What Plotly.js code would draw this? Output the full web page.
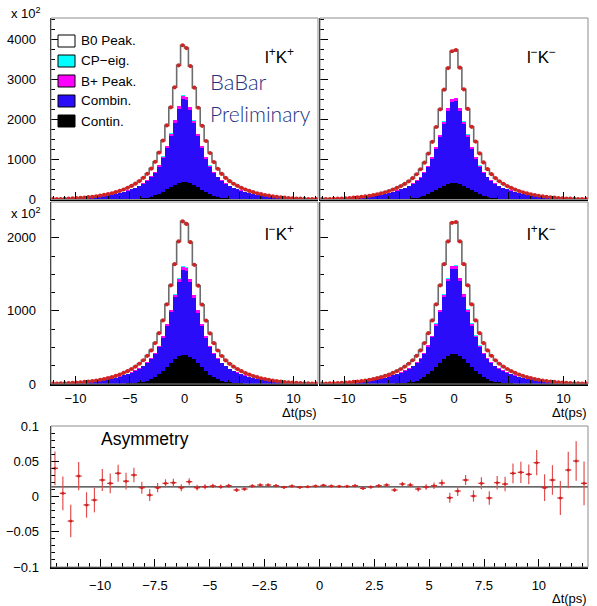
<!DOCTYPE html>
<html><head><meta charset="utf-8">
<script src="https://cdn.plot.ly/plotly-3.0.1.min.js"></script>
<style>html,body{margin:0;padding:0;background:#fff}#plot{width:597px;height:606px}</style>
</head><body><div id="plot"></div>
<script>
// ---- bin centres (Δt, ps) ----
const binCenters = [-12.06,-11.70,-11.34,-10.98,-10.62,-10.26,-9.90,-9.54,-9.18,-8.82,-8.46,-8.10,-7.74,-7.38,-7.02,-6.66,-6.30,-5.94,-5.58,-5.22,-4.86,-4.50,-4.14,-3.78,-3.42,-3.06,-2.70,-2.34,-1.98,-1.62,-1.26,-0.90,-0.54,-0.18,
 0.18,0.54,0.90,1.26,1.62,1.98,2.34,2.70,3.06,3.42,3.78,4.14,4.50,4.86,5.22,5.58,5.94,6.30,6.66,7.02,7.38,7.74,8.10,8.46,8.82,9.18,9.54,9.90,10.26,10.62,10.98,11.34,11.70,12.06];

// ---- l+K+ (top left), units of 10^2 ----
const totTL = [8,10,13,17,21,26,32,39,47,57,68,81,96,113,133,156,183,214,250,292,340,395,460,540,640,770,940,1170,1470,1850,2300,2800,3350,3850,
 3780,3330,2790,2290,1840,1460,1160,935,765,638,538,458,393,338,290,249,213,182,155,132,112,95,80,67,56,46,38,31,25,20,16,13,10,8];
const contTL = [0,0,0,0,0,0,0,0,0,0,1,1,1,1,2,2,3,4,6,8,11,16,23,33,48,70,100,140,190,250,310,370,415,440,
 438,412,368,308,248,188,138,98,68,47,32,22,15,11,8,6,4,3,2,2,1,1,1,1,1,0,0,0,0,0,0,0,0,0];
const combTL = [7,9,12,14,18,22,27,33,39,47,55,65,77,90,104,121,140,162,186,214,244,274,315,362,417,485,565,680,840,1040,1280,1550,1845,2080,
 2040,1830,1540,1275,1035,835,676,560,482,414,360,313,272,242,212,184,160,139,120,103,89,76,64,54,46,38,32,26,21,17,14,11,9,7];
const bpTL = [0,0,0,0,0,0,0,0,0,0,0,1,1,1,1,2,2,3,4,5,6,8,10,13,17,21,26,32,39,47,55,62,68,70,
 70,68,62,55,47,39,32,26,21,17,13,10,8,6,5,4,3,2,2,1,1,1,1,0,0,0,0,0,0,0,0,0,0,0];
const cpTL = [0,0,0,0,0,0,0,0,0,0,0,0,0,0,0,0,0,0,0,0,1,1,1,1,2,2,3,4,5,6,7,8,9,10,
 10,9,8,7,6,5,4,3,2,2,1,1,1,1,0,0,0,0,0,0,0,0,0,0,0,0,0,0,0,0,0,0,0,0];

// ---- l-K- (top right) ----
const totTR = [8,10,13,16,20,25,31,38,46,55,66,79,94,111,131,154,181,212,247,288,335,389,453,532,630,755,920,1145,1440,1810,2250,2740,3280,3700,
 3730,3290,2750,2260,1815,1445,1150,925,758,632,534,455,390,336,289,248,212,181,154,131,111,94,79,66,55,46,38,31,25,20,16,13,10,8];
const contTR = [0,0,0,0,0,0,0,0,0,0,1,1,1,1,2,2,3,4,6,8,11,15,22,32,46,67,95,132,178,232,285,338,378,400,
 402,380,340,286,232,178,132,95,67,46,32,22,15,11,8,6,4,3,2,2,1,1,1,1,0,0,0,0,0,0,0,0,0,0];
const combTR = [7,9,11,14,17,21,26,32,38,46,54,64,76,89,103,120,139,160,184,212,242,272,313,360,414,482,563,680,838,1035,1275,1540,1830,2030,
 2050,1835,1545,1278,1038,840,682,565,484,416,361,314,273,243,213,185,161,140,121,104,90,77,65,55,47,39,33,27,22,18,14,12,9,7];
const bpTR = [0,0,0,0,0,0,0,0,0,0,0,1,1,1,1,2,2,3,4,5,6,8,10,12,16,20,25,31,38,46,54,61,66,68,
 69,66,61,54,46,38,31,25,20,16,12,10,8,6,5,4,3,2,2,1,1,1,1,0,0,0,0,0,0,0,0,0,0,0];
const cpTR = [0,0,0,0,0,0,0,0,0,0,0,0,0,0,0,0,0,0,0,0,1,1,1,1,2,2,3,4,5,6,7,8,9,10,
 10,9,8,7,6,5,4,3,2,2,1,1,1,1,0,0,0,0,0,0,0,0,0,0,0,0,0,0,0,0,0,0,0,0];

// ---- l-K+ (bottom left) ----
const totBL = [5,6,8,10,12,15,19,23,28,34,40,48,57,68,80,94,110,129,151,176,205,238,277,325,385,460,560,695,870,1090,1350,1640,1950,2225,
 2190,1940,1630,1345,1085,866,692,558,458,383,323,276,237,204,175,150,128,109,93,79,67,56,47,39,33,27,22,18,15,12,10,8,6,5];
const contBL = [0,0,0,0,0,0,0,0,0,0,1,1,1,1,2,2,3,4,6,8,11,15,22,32,46,67,95,132,178,232,285,338,378,398,
 400,376,336,284,230,176,130,94,66,45,31,21,15,11,8,6,4,3,2,2,1,1,1,1,0,0,0,0,0,0,0,0,0,0];
const combBL = [4,5,7,8,10,13,16,19,23,28,33,39,46,54,62,73,84,97,111,127,145,165,186,211,239,273,315,373,457,563,695,847,1022,1165,
 1150,1018,845,692,560,455,372,314,272,238,210,185,164,144,126,110,96,83,72,62,53,45,38,32,27,22,18,15,12,10,8,6,5,4];
const bpBL = [0,0,0,0,0,0,0,0,0,0,0,0,0,1,1,1,1,2,2,3,4,5,6,8,10,12,15,18,22,27,32,36,39,40,
 40,39,36,32,27,22,18,15,12,10,8,6,5,4,3,2,2,1,1,1,1,0,0,0,0,0,0,0,0,0,0,0,0,0];
const cpBL = [0,0,0,0,0,0,0,0,0,0,0,0,0,0,0,0,0,0,0,0,0,0,0,1,1,1,2,2,3,4,4,5,6,6,
 6,6,5,4,4,3,2,2,1,1,1,0,0,0,0,0,0,0,0,0,0,0,0,0,0,0,0,0,0,0,0,0,0,0];

// ---- l+K- (bottom right) ----
const totBR = [5,6,8,10,12,15,19,23,28,34,40,48,57,68,80,94,110,129,151,176,205,238,277,325,385,460,560,695,870,1090,1350,1640,1950,2205,
 2215,1950,1640,1350,1090,870,695,560,460,385,325,277,238,205,176,151,129,110,94,80,68,57,48,40,34,28,23,19,15,12,10,8,6,5];
const contBR = [0,0,0,0,0,0,0,0,0,0,1,1,1,1,2,2,3,4,6,8,11,16,23,33,47,69,98,136,183,238,292,347,388,408,
 410,388,347,292,238,183,136,98,69,47,33,23,16,11,8,6,4,3,2,2,1,1,1,1,0,0,0,0,0,0,0,0,0,0];
const combBR = [4,5,7,8,10,13,16,19,23,28,33,39,46,54,62,73,84,97,111,127,145,165,186,211,239,273,315,373,455,560,690,840,1015,1160,
 1168,1020,846,693,562,456,372,314,272,238,210,185,164,144,126,110,96,83,72,62,53,45,38,32,27,22,18,15,12,10,8,6,5,4];
const bpBR = [0,0,0,0,0,0,0,0,0,0,0,0,0,1,1,1,1,2,2,3,4,5,6,8,10,12,15,18,22,27,32,36,39,41,
 41,39,36,32,27,22,18,15,12,10,8,6,5,4,3,2,2,1,1,1,1,0,0,0,0,0,0,0,0,0,0,0,0,0];
const cpBR = [0,0,0,0,0,0,0,0,0,0,0,0,0,0,0,0,0,0,0,0,0,0,0,1,1,1,2,2,3,4,4,5,6,6,
 6,6,5,4,4,3,2,2,1,1,1,0,0,0,0,0,0,0,0,0,0,0,0,0,0,0,0,0,0,0,0,0,0,0];

// ---- asymmetry ----
const asymVal = [0.040,0.0045,-0.0348,0.029,-0.012,-0.005,0.0234,0.0187,0.033,0.0218,
 0.0305,0.0125,0.002,0.0125,0.0187,0.0196,0.0125,0.021,0.0125,0.0139,
 0.015,0.014,0.0153,0.0092,0.0106,0.0148,0.0163,0.0163,0.0153,0.013,
 0.0148,0.013,0.0139,0.0148,0.0158,0.0148,0.0144,0.0144,0.0153,0.0116,
 0.0135,0.0153,0.0163,0.0092,0.0177,0.0163,0.0106,0.0135,0.0153,0.0191,
 -0.0017,0.0078,0.0234,0.0007,0.0187,-0.0021,0.0196,0.0177,0.0329,0.0343,
 0.0315,0.048,0.0125,0.0234,-0.0021,0.0376,0.0504,0.0187];
const asymErr = [0.024,0.024,0.023,0.020,0.018,0.0175,0.0156,0.014,0.012,0.012,
 0.0104,0.0085,0.0085,0.0066,0.0057,0.0057,0.005,0.005,0.004,0.0035,
 0.003,0.003,0.0028,0.0028,0.0025,0.0024,0.0022,0.0021,0.002,0.002,
 0.0019,0.0018,0.0018,0.0018,0.0018,0.0018,0.0019,0.002,0.002,0.0021,
 0.0022,0.0024,0.0025,0.0027,0.003,0.0032,0.0035,0.004,0.0045,0.005,
 0.007,0.007,0.007,0.008,0.0085,0.0095,0.0095,0.0104,0.014,0.015,
 0.014,0.018,0.019,0.021,0.024,0.026,0.028,0.031];
const asymFit = 0.0137;
const xRange = [-12.24, 12.24];

// ---- legend / labels ----
const legendLabels = ['B0 Peak.', 'CP\u2212eig.', 'B+ Peak.', 'Combin.', 'Contin.'];
const panelLabels = ['l<sup>+</sup>K<sup>+</sup>', 'l<sup>\u2212</sup>K<sup>\u2212</sup>', 'l<sup>\u2212</sup>K<sup>+</sup>', 'l<sup>+</sup>K<sup>\u2212</sup>'];

const W = 597, H = 606;
const px = x => x / W, py = y => 1 - y / H;
const FONT = 'Liberation Sans, Arial, Helvetica, sans-serif';
const BLUE = '#2a0cf8', MAG = '#ff00ff', CYAN = '#00ffff', RED = '#d22222';
const legendColors = ['#ffffff', CYAN, MAG, BLUE, '#000000'];

function panel(n, tot, cont, comb, bp, cp) {
  const xa = n === 1 ? 'x' : 'x' + n, ya = n === 1 ? 'y' : 'y' + n;
  const bar = (y, c) => ({type: 'bar', x: binCenters, y: y, xaxis: xa, yaxis: ya,
    marker: {color: c, line: {width: 0}}, hoverinfo: 'skip'});
  return [
    bar(cont, '#000000'), bar(comb, BLUE), bar(bp, MAG), bar(cp, CYAN),
    {type: 'scatter', mode: 'lines', x: binCenters, y: tot, xaxis: xa, yaxis: ya,
      line: {shape: 'hvh', color: '#6c6c6c', width: 1.6}},
    {type: 'scatter', mode: 'markers', x: binCenters, y: tot, xaxis: xa, yaxis: ya,
      marker: {color: RED, size: 4.2}}
  ];
}

const traces = [].concat(
  panel(1, totTL, contTL, combTL, bpTL, cpTL),
  panel(2, totTR, contTR, combTR, bpTR, cpTR),
  panel(3, totBL, contBL, combBL, bpBL, cpBL),
  panel(4, totBR, contBR, combBR, bpBR, cpBR),
  [
    {type: 'scatter', mode: 'lines', x: xRange, y: [asymFit, asymFit], xaxis: 'x5', yaxis: 'y5',
      line: {color: '#333', width: 1.2}},
    {type: 'scatter', mode: 'markers', x: binCenters, y: asymVal, xaxis: 'x5', yaxis: 'y5',
      marker: {color: RED, size: 3},
      error_y: {type: 'data', array: asymErr, visible: true, color: '#e05050', thickness: 1.2, width: 0},
      error_x: {type: 'constant', value: 0.14, visible: true, color: RED, thickness: 1.2, width: 0}}
  ]
);

const tickFont = {family: FONT, size: 13, color: '#000'};
function xax(dom, anchor, labels, dtick, minor, standoff) {
  return {domain: dom, anchor: anchor, range: xRange, showticklabels: labels,
    ticks: 'inside', ticklen: 8, tickwidth: 1, tickcolor: '#000', dtick: dtick, tick0: 0,
    minor: {ticks: 'inside', dtick: minor, ticklen: 4, tickcolor: '#000', tickwidth: 1, showgrid: false},
    showline: true, linecolor: '#000', linewidth: 1.5, showgrid: false, zeroline: false,
    tickfont: tickFont, ticklabelstandoff: standoff, fixedrange: true};
}
function yax(dom, anchor, range, labels, dtick, minor, standoff) {
  return {domain: dom, anchor: anchor, range: range, showticklabels: labels,
    ticks: 'inside', ticklen: 8, tickwidth: 1, tickcolor: '#000', dtick: dtick, tick0: 0,
    minor: {ticks: 'inside', dtick: minor, ticklen: 4, tickcolor: '#000', tickwidth: 1, showgrid: false},
    showline: true, linecolor: '#000', linewidth: 1.5, showgrid: false, zeroline: false,
    tickfont: tickFont, ticklabelstandoff: standoff, fixedrange: true};
}

const xL = [px(51), px(318)], xR = [px(320), px(588)], xA = [px(51), px(588)];
const yT = [py(199.5), py(18)], yB = [py(384), py(202)], yA = [py(567), py(426)];
const topRange = [0, 4530], botRange = [0, 2490];

const shapes = [];
['', '2', '3', '4', '5'].forEach(s => {
  shapes.push({type: 'rect', xref: 'x' + s + ' domain', yref: 'y' + s + ' domain',
    x0: 0, x1: 1, y0: 0, y1: 1, line: {color: '#8c8c8c', width: 1}, layer: 'above'});
});
legendLabels.forEach((t, i) => {
  const yc = 41 + 20 * i;
  shapes.push({type: 'rect', xref: 'paper', yref: 'paper', x0: px(58), x1: px(75),
    y0: py(yc + 6), y1: py(yc - 6), fillcolor: legendColors[i], line: {color: '#000', width: 1}});
});

const ann = (text, x, y, xanchor, size, extra) => Object.assign({
  text: text, x: px(x), y: py(y), xref: 'paper', yref: 'paper', xanchor: xanchor, yanchor: 'middle',
  showarrow: false, font: {family: FONT, size: size, color: '#000'}}, extra || {});

const annotations = [];
legendLabels.forEach((t, i) => annotations.push(ann(t, 79, 41 + 20 * i, 'left', 13.5)));
annotations.push(ann('x 10<sup>2</sup>', 9, 13, 'left', 13));
annotations.push(ann('x 10<sup>2</sup>', 9, 213, 'left', 13));
annotations.push(ann(panelLabels[0], 296, 56, 'right', 17));
annotations.push(ann(panelLabels[1], 558, 56, 'right', 17));
annotations.push(ann(panelLabels[2], 296, 233, 'right', 17));
annotations.push(ann(panelLabels[3], 558, 233, 'right', 17));
annotations.push(ann('BaBar', 208, 81, 'left', 22, {font: {family: 'Lato, sans-serif', size: 22, color: '#22307f', weight: 300}}));
annotations.push(ann('Preliminary', 208, 114, 'left', 22, {font: {family: 'Lato, sans-serif', size: 21, color: '#22307f', weight: 300}}));
annotations.push(ann('Asymmetry', 99, 439, 'left', 17.5));
annotations.push(ann('\u0394t(ps)', 319, 412, 'right', 13));
annotations.push(ann('\u0394t(ps)', 589, 412, 'right', 13));
annotations.push(ann('\u0394t(ps)', 589, 598, 'right', 13));

const layout = {
  width: W, height: H, margin: {l: 0, r: 0, t: 0, b: 0},
  paper_bgcolor: '#fff', plot_bgcolor: '#fff', showlegend: false,
  barmode: 'stack', bargap: 0, hovermode: false,
  xaxis: xax(xL, 'y', false, 5, 1, 2),
  yaxis: yax(yT, 'x', topRange, true, 1000, 250, 11),
  xaxis2: xax(xR, 'y2', false, 5, 1, 2),
  yaxis2: yax(yT, 'x2', topRange, false, 1000, 250, 11),
  xaxis3: xax(xL, 'y3', true, 5, 1, 2),
  yaxis3: yax(yB, 'x3', botRange, true, 1000, 250, 11),
  xaxis4: xax(xR, 'y4', true, 5, 1, 2),
  yaxis4: yax(yB, 'x4', botRange, false, 1000, 250, 11),
  xaxis5: xax(xA, 'y5', true, 2.5, 0.5, 6),
  yaxis5: yax(yA, 'x5', [-0.1, 0.1], true, 0.05, 0.01, 8),
  shapes: shapes, annotations: annotations
};

Plotly.newPlot('plot', traces, layout, {staticPlot: true, displayModeBar: false});
</script></body></html>
